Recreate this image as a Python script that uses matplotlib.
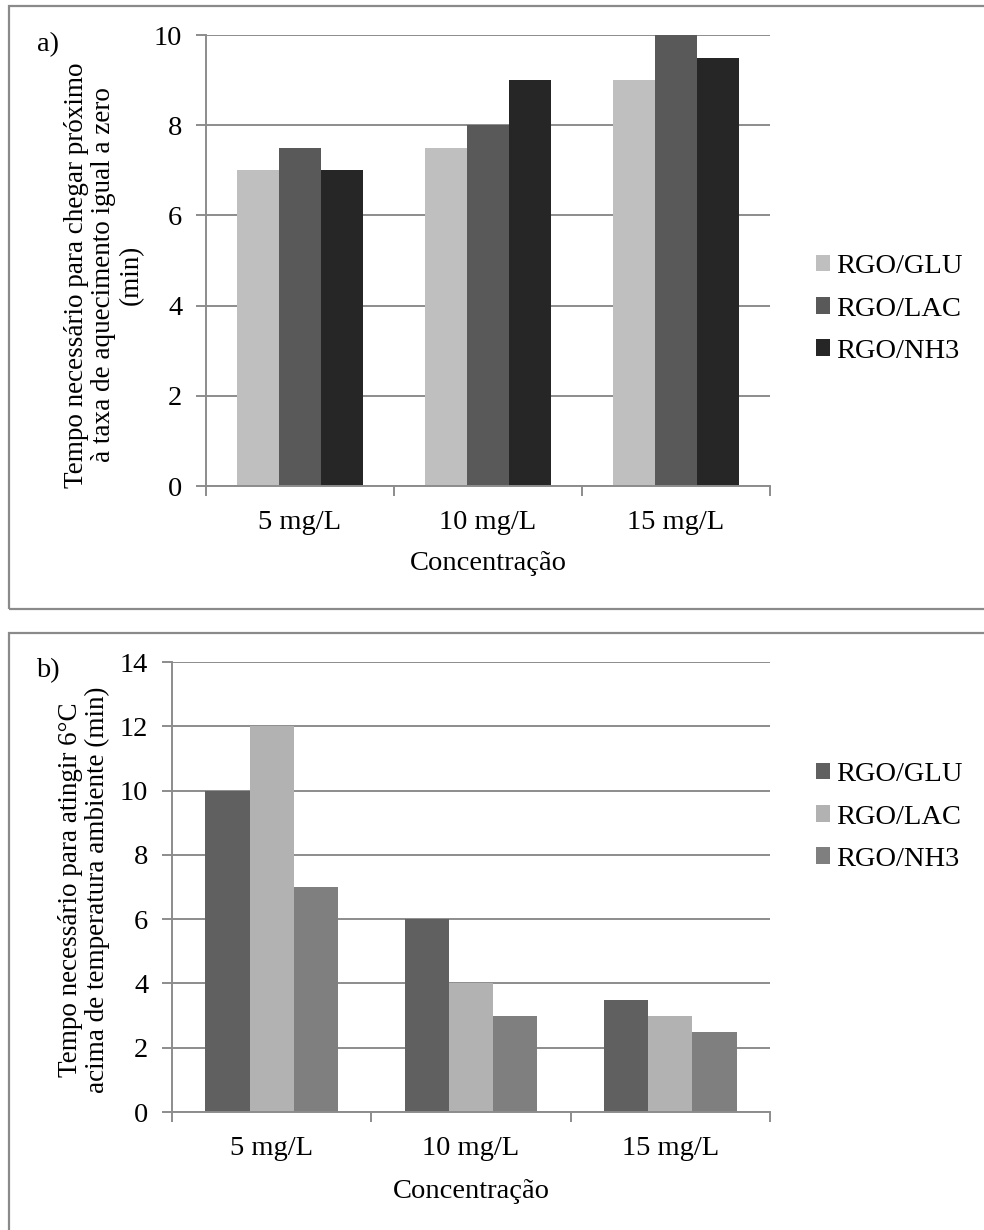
import matplotlib
matplotlib.use("Agg")
import matplotlib.pyplot as plt
from matplotlib.patches import Rectangle, Patch
import numpy as np

categories = ["5 mg/L", "10 mg/L", "15 mg/L"]
series = ["RGO/GLU", "RGO/LAC", "RGO/NH3"]

a_glu = [7, 7.5, 9]
a_lac = [7.5, 8, 10]
a_nh3 = [7, 9, 9.5]

b_glu = [10, 6, 3.5]
b_lac = [12, 4, 3]
b_nh3 = [7, 3, 2.5]

a_colors = ["#BFBFBF", "#595959", "#262626"]
b_colors = ["#606060", "#B2B2B2", "#7F7F7F"]

a_ylabel = "Tempo necessário para chegar próximo\nà taxa de aquecimento igual a zero\n(min)"
b_ylabel = "Tempo necessário para atingir 6°C\nacima de temperatura ambiente (min)"
xlabel = "Concentração"

plt.rcParams['font.family'] = ['Liberation Serif', 'DejaVu Serif']
FS = 20.5
FSY = 19.5
W, H = 984, 1230
GRID = "#8C8C8C"

fig = plt.figure(figsize=(W / 100, H / 100), dpi=100)


def fx(x):
    return x / W


def fy(y):
    return 1 - y / H


def border(x0, y0, x1, y1):
    r = Rectangle((fx(x0), fy(y1)), fx(x1 - x0), (y1 - y0) / H, transform=fig.transFigure,
                  fill=False, edgecolor="#8A8A8A", linewidth=1.6, clip_on=False)
    fig.patches.append(r)


def panel(left, top, right, bottom, vals, colors, ymax, ylabel, ylab_xy, letter, letter_xy,
          leg_xy, xlab_y):
    ax = fig.add_axes([fx(left), fy(bottom), fx(right - left), (bottom - top) / H])
    x = np.arange(len(categories))
    w = 1 / 4.5
    for i, (v, c, s) in enumerate(zip(vals, colors, series)):
        ax.bar(x + (i - 1) * w, v, width=w, color=c, label=s, zorder=3, linewidth=0)
    ax.set_xlim(-0.5, len(categories) - 0.5)
    ax.set_ylim(0, ymax)
    ticks = np.arange(0, ymax + 0.1, 2)
    ax.set_yticks(ticks)
    ax.set_yticklabels([str(int(t)) for t in ticks], fontsize=FS)
    ax.set_xticks(x)
    ax.set_xticklabels(categories, fontsize=FS)
    ax.set_xticks(np.arange(-0.5, len(categories)), minor=True)
    ax.tick_params(axis='x', which='major', length=0, pad=17)
    ax.tick_params(axis='x', which='minor', length=7, width=1.4, color=GRID, direction='out')
    ax.tick_params(axis='y', which='major', length=7, width=1.4, color=GRID, direction='out', pad=10)
    ax.yaxis.grid(True, color=GRID, linewidth=1.4, zorder=0)
    ax.set_axisbelow(True)
    for s in ['top', 'right']:
        ax.spines[s].set_visible(False)
    for s in ['left', 'bottom']:
        ax.spines[s].set_color(GRID)
        ax.spines[s].set_linewidth(1.4)
        ax.spines[s].set_zorder(4)
    fig.text(fx(ylab_xy[0]), fy(ylab_xy[1]), ylabel, rotation=90, ha='center', va='center',
             fontsize=FSY, linespacing=1.12, multialignment='center')
    fig.text(fx((left + right) / 2), fy(xlab_y), xlabel, ha='center', va='center', fontsize=FS)
    fig.text(fx(letter_xy[0]), fy(letter_xy[1]), letter, ha='left', va='center', fontsize=FS)
    handles = [Patch(facecolor=c, edgecolor='none') for c in colors]
    fig.legend(handles, series, loc='center left', bbox_to_anchor=(fx(leg_xy[0]), fy(leg_xy[1])),
               frameon=False, fontsize=FS, handlelength=0.5, handleheight=0.5,
               handletextpad=0.2, labelspacing=0.6, borderpad=0, borderaxespad=0)
    return ax


border(9, 6, 995, 609)
border(9, 633, 995, 1245)

panel(206, 35, 770, 486, [a_glu, a_lac, a_nh3], a_colors, 10, a_ylabel, (104, 275), "a)", (37, 45),
      (816, 309), 563)
panel(172, 662, 770, 1112, [b_glu, b_lac, b_nh3], b_colors, 14, b_ylabel, (84, 890), "b)", (36, 671),
      (816, 817), 1191)

fig.savefig("out.png", dpi=100)
